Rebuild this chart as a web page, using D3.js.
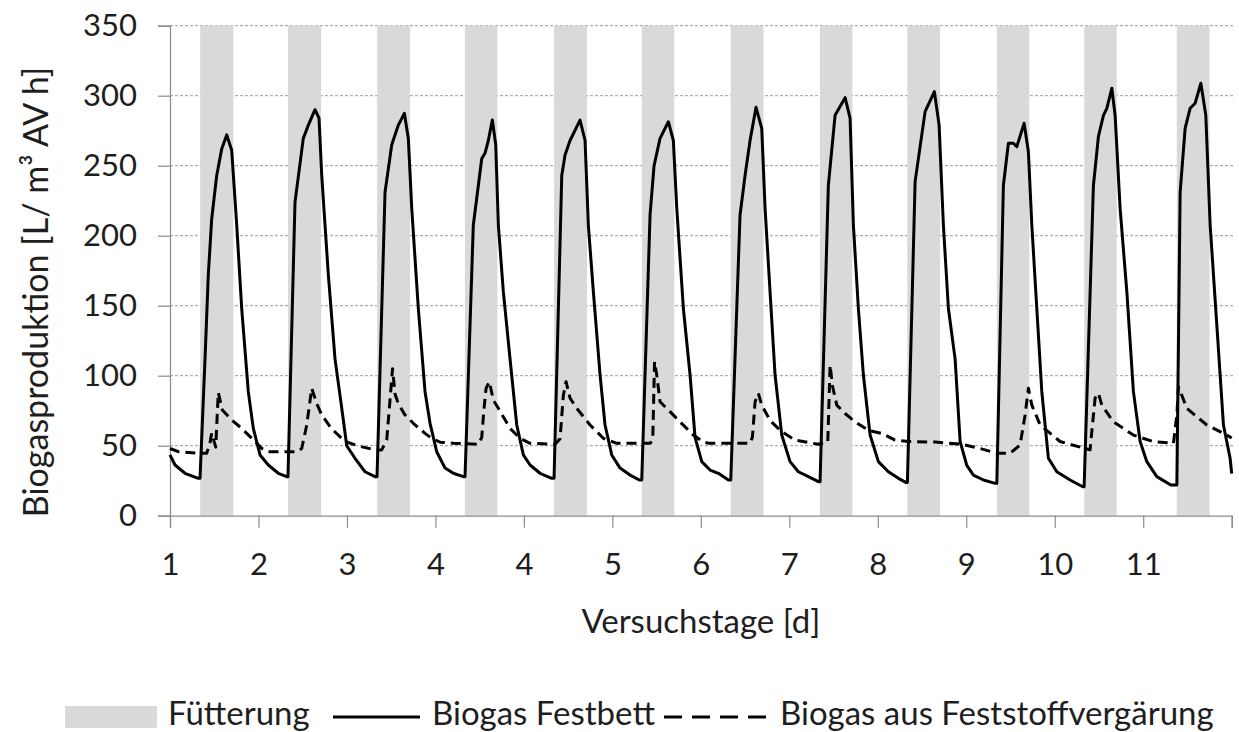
<!DOCTYPE html>
<html>
<head>
<meta charset="utf-8">
<script src="https://cdn.jsdelivr.net/npm/d3@7"></script>
<style>
  html, body { margin: 0; padding: 0; background: #fff; }
  svg { display: block; font-family: Lato, "Open Sans", sans-serif; }
</style>
</head>
<body>
<svg id="chart" width="1239" height="732"></svg>
<script>
// Day labels under each day tick (as printed on the axis)
const dayLabels = ["1", "2", "3", "4", "4", "5", "6", "7", "8", "9", "10", "11"];
const yTicks = [0, 50, 100, 150, 200, 250, 300, 350];

// Feeding periods, in hours since test start
const feedStart = [8.2, 32.0, 56.2, 80.0, 104.2, 128.0, 152.1, 176.3, 200.0, 224.3, 248.0, 273.1];
const feedEnd   = [17.2, 41.0, 65.1, 88.8, 113.1, 136.8, 161.0, 185.1, 208.9, 233.1, 256.8, 282.0];

// Biogas Festbett: time [h] and production [L/ m³ AV h]
const festbettHours = [
  0, 1.36, 4.07, 7.68, 8.14, 9.5, 10.39, 11.31, 12.67, 14.03, 15.38, 16.74, 18.1, 19.45, 21.24, 22.6,
  24.42, 26.67, 29.38, 31.66, 32.0, 33.91, 36.16, 37.52, 39.34, 40.42, 41.16, 42.95, 44.76, 46.58, 47.94,
  50.19, 52.9, 55.62, 56.16, 58.33, 60.15, 61.94, 63.57, 64.65, 65.57, 67.36, 69.18, 70.54,
  72.35, 74.61, 76.86, 79.57, 80.03, 82.28, 84.56, 85.46, 86.35, 87.44, 88.36, 89.07, 90.42, 92.24, 94.06,
  95.85, 97.67, 100.38, 103.55, 104.18, 106.27, 107.16, 108.52, 111.23, 112.59, 113.48, 114.84, 116.66, 118.01,
  119.83, 122.08, 124.8, 127.32, 127.97, 130.22, 131.31, 132.93, 135.19, 136.54, 137.47, 139.26, 141.07, 142.43,
  144.25, 146.5, 148.75, 151.47, 152.11, 154.63, 155.99, 157.35, 158.97, 160.52, 161.42, 162.77, 164.13, 165.95,
  168.2, 170.45, 173.17, 175.88, 176.34, 178.59, 180.41, 183.13, 184.48, 185.38, 186.73, 188.09, 189.91,
  192.16, 194.87, 197.59, 199.59, 200.03, 202.12, 204.83, 207.35, 208.63, 209.79, 211.15, 212.97, 214.33,
  216.14, 217.93, 220.65, 223.82, 224.28, 226.07, 227.43, 228.78, 229.71, 231.69, 232.85, 233.78, 235.13, 236.49, 238.28,
  240.56, 244.17, 247.61, 247.97, 250.49, 251.85, 253.21, 254.13, 255.48, 256.38, 257.73, 259.55, 261.34, 263.16,
  264.98, 267.69, 271.49, 273.12, 274.01, 275.37, 276.72, 278.08, 279.63, 280.98, 282.15, 283.97, 285.76, 287.57, 288
];
const festbett = [
  43.4, 36.2, 30.3, 26.7, 26.7, 112, 172, 212, 243, 262, 272, 261, 207.6, 148, 88.6, 62.4,
  43.4, 36.2, 30.3, 27.9, 27.9, 224, 269.5, 279, 290, 284, 243, 172, 112, 77, 50,
  41, 31.4, 27.9, 27.9, 231, 265, 279, 287.4, 269.5, 219.6, 148, 88.6, 66,
  45.7, 34, 30.3, 27.9, 27.9, 207.6, 255, 259, 268, 282.6, 265, 207.6, 160, 112, 64.8,
  43.4, 36.2, 30.3, 26.7, 26.7, 243, 257.6, 268, 282.6, 268, 207.6, 160, 100.5, 64.8,
  43.4, 34, 29, 25.5, 25.5, 214.8, 250, 269.5, 281.4, 268, 219.6, 148, 100.5, 56,
  38.6, 32.6, 30.3, 25.5, 25.5, 214.8, 243, 268, 291.7, 276.7, 219.6, 160, 100.5, 57.6,
  38.6, 31.4, 27.9, 24.3, 24.3, 236, 286, 298.6, 284, 207.6, 148, 100.5, 57.6,
  38.6, 31.4, 26.7, 23.8, 23.8, 238.6, 288.6, 302.9, 279, 207.6, 148, 112, 53,
  36, 29, 25.5, 23.1, 23.1, 236, 266, 266, 263.6, 280.3, 260, 207.6, 148, 88.6, 41,
  31.4, 25.5, 20.7, 20.7, 236, 271, 286, 291, 305.3, 286, 219.6, 160, 88.6, 53,
  38.6, 27.9, 21.9, 21.9, 231, 276.7, 291, 294.6, 308.9, 286, 207.6, 136, 64.8, 41, 30
];

// Biogas aus Feststoffvergärung: time [h] and production [L/ m³ AV h]
const feststoffHours = [
  0, 2.25, 7.68, 9.96, 10.85, 11.31, 12.4, 13.1, 14.19, 16.74, 19.45, 22.17, 24.88, 26.67,
  34.37, 35.73, 37.09, 38.44, 39.8, 41.16, 43.87, 47.48, 51.08, 55.62, 57.43,
  58.79, 60.37, 61.04, 61.94, 63.75, 66.0, 69.18, 71.0, 73.25, 76.86,
  83.64, 84.56, 85.19, 85.73, 86.62, 87.71, 89.07, 92.24, 94.95, 97.67,
  104.45, 105.81, 106.7, 107.43, 108.52, 110.34, 113.95, 117.55, 121.19,
  130.22, 130.95, 131.44, 132.03, 132.93, 135.64, 138.36, 141.97, 144.68, 146.04,
  157.35, 157.98, 158.71, 159.6, 160.52, 162.77, 165.95, 169.56, 175.88,
  178.43, 179.06, 179.68, 180.88, 183.13, 185.84, 189.45, 193.08, 196.69, 200.3, 207.54, 214.78,
  219.75, 224.28, 227.89, 230.6, 231.96, 232.85, 233.78, 236.03, 241.45, 249.59,
  250.05, 250.95, 251.85, 252.77, 255.91, 261.34, 266.77, 272.2,
  273.12, 273.55, 274.47, 275.83, 281.25, 286.68, 288
];
const feststoff = [
  48, 45.7, 44.6, 44.6, 52, 59, 49, 88, 75.5, 68.4, 62.4, 55.3, 48.1, 45.7,
  45.7, 48, 64.8, 91, 80, 72, 62, 53, 49.8, 47, 47,
  54, 105, 87, 80, 72, 66, 58.8, 55.3, 52.5, 51.7,
  51, 56, 76.7, 91, 95.7, 82.6, 76.7, 62.4, 55.3, 51.7,
  51, 55, 86, 95.7, 84, 76.7, 64.8, 55.3, 51.7,
  51.7, 54, 110, 100.5, 81.4, 74.3, 67, 57.6, 52.6, 51.7,
  51.7, 56, 81.4, 87.4, 79, 68, 60, 54, 51,
  52.6, 107.6, 93, 79, 73, 67, 61, 58.8, 54, 53, 52.6, 51,
  48, 44.6, 44.6, 50.5, 72, 91, 79, 64.8, 53, 47,
  60, 84, 87.4, 79, 67, 57.6, 52.9, 51.7,
  72, 92, 86, 76.7, 64.8, 57.6, 55.5
];

const svg = d3.select("#chart");
const plot = { left: 170, right: 1231.7, top: 25.7, bottom: 515.7 };

const x = d3.scaleLinear().domain([0, 288]).range([plot.left, plot.right]);
const y = d3.scaleLinear().domain([0, 350]).range([plot.bottom, plot.top]);

const axisColor = "#8a8a8a";
const textColor = "#1e1e1e";

// Horizontal gridlines
svg.append("g")
  .selectAll("line")
  .data(yTicks.filter(v => v > 0))
  .join("line")
  .attr("x1", plot.left).attr("x2", plot.right + 1.5)
  .attr("y1", d => y(d)).attr("y2", d => y(d))
  .attr("stroke", "#9a9a9a")
  .attr("stroke-width", 1)
  .attr("stroke-dasharray", "3,2");

// Feeding periods as full-height columns
svg.append("g")
  .selectAll("rect")
  .data(feedStart.map((s, i) => [s, feedEnd[i]]))
  .join("rect")
  .attr("x", d => x(d[0]))
  .attr("width", d => x(d[1]) - x(d[0]))
  .attr("y", y(350))
  .attr("height", y(0) - y(350))
  .attr("fill", "#d9d9d9");

// Y axis
const yAxis = d3.axisLeft(y).tickValues(yTicks).tickSize(12).tickPadding(21);
const gy = svg.append("g").attr("transform", `translate(${plot.left},0)`).call(yAxis);
gy.select(".domain").attr("stroke", axisColor).attr("stroke-width", 1.2);
gy.selectAll(".tick line").attr("stroke", axisColor).attr("stroke-width", 1.2);
gy.selectAll(".tick text")
  .attr("font-size", 31).attr("fill", textColor)
  .attr("font-family", "Lato, sans-serif");

// X axis: one tick per day, labelled with the day numbers
const dayTicks = d3.range(0, 13).map(d => d * 24);
const xAxis = d3.axisBottom(x)
  .tickValues(dayTicks)
  .tickSize(12)
  .tickPadding(25)
  .tickFormat((d, i) => dayLabels[i] !== undefined ? dayLabels[i] : "");
const gx = svg.append("g").attr("transform", `translate(0,${plot.bottom})`).call(xAxis);
gx.select(".domain").attr("stroke", axisColor).attr("stroke-width", 1.2);
gx.selectAll(".tick line").attr("stroke", axisColor).attr("stroke-width", 1.2);
gx.selectAll(".tick text")
  .attr("font-size", 31).attr("fill", textColor)
  .attr("font-family", "Lato, sans-serif");

// Series lines
const line = d3.line().x(d => x(d[0])).y(d => y(d[1]));

svg.append("path")
  .datum(feststoffHours.map((h, i) => [h, feststoff[i]]))
  .attr("d", line)
  .attr("fill", "none")
  .attr("stroke", "#000")
  .attr("stroke-width", 3)
  .attr("stroke-dasharray", "10,6")
  .attr("stroke-linejoin", "round");

svg.append("path")
  .datum(festbettHours.map((h, i) => [h, festbett[i]]))
  .attr("d", line)
  .attr("fill", "none")
  .attr("stroke", "#000")
  .attr("stroke-width", 3)
  .attr("stroke-linejoin", "round");

// Axis titles
svg.append("text")
  .attr("transform", `translate(48,292) rotate(-90)`)
  .attr("text-anchor", "middle")
  .attr("font-size", 34)
  .attr("fill", textColor)
  .text("Biogasproduktion [L/ m³ AV h]");

svg.append("text")
  .attr("x", (plot.left + plot.right) / 2)
  .attr("y", 633)
  .attr("text-anchor", "middle")
  .attr("font-size", 33)
  .attr("fill", textColor)
  .text("Versuchstage [d]");

// Legend
const legendY = 717;
const legend = svg.append("g").attr("font-size", 33).attr("fill", textColor);
legend.append("rect").attr("x", 65).attr("y", legendY - 11).attr("width", 92).attr("height", 22).attr("fill", "#d9d9d9");
legend.append("text").attr("x", 168).attr("y", 725).text("Fütterung");
legend.append("line").attr("x1", 333).attr("x2", 420).attr("y1", legendY).attr("y2", legendY)
  .attr("stroke", "#000").attr("stroke-width", 3);
legend.append("text").attr("x", 432).attr("y", 725).text("Biogas Festbett");
legend.append("line").attr("x1", 664).attr("x2", 766).attr("y1", legendY).attr("y2", legendY)
  .attr("stroke", "#000").attr("stroke-width", 3).attr("stroke-dasharray", "18,10");
legend.append("text").attr("x", 780).attr("y", 725).text("Biogas aus Feststoffvergärung");
</script>
</body>
</html>
